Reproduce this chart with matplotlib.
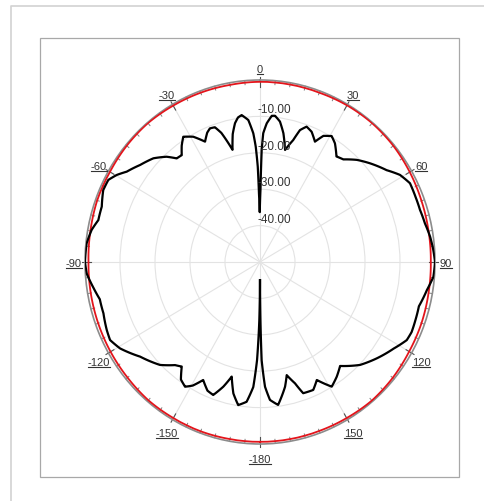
import numpy as np
import matplotlib
matplotlib.use('Agg')
import matplotlib.pyplot as plt
from matplotlib.lines import Line2D
from matplotlib.patches import Rectangle

plt.rcParams['font.family'] = ['Liberation Sans', 'DejaVu Sans']

# ---- data (angle in degrees, level in dB) ----
black_theta = [-180, -179.3, -178.2, -176.8, -174.3, -171.0, -168.1, -165.6, -163.0, -159.9,
               -157.0, -153.4, -150.5, -148.0, -145.0, -142.1, -139.4, -134.7, -127.2, -120.7,
               -116.6, -113.1, -107.5, -102.6, -98.5, -93.7, -90.0, -84.1, -79.6, -76.0,
               -71.4, -66.2, -62.5, -59.7, -56.9, -52.1, -46.9, -42.7, -39.9, -37.3,
               -35.0, -32.5, -29.0, -25.4, -23.0, -21.3, -19.2, -17.3, -14.3, -12.5,
               -10.6, -9.0, -7.4, -4.9, -3.1, -2.2, -1.4, -0.9, -0.3, 0.4,
               0.9, 1.5, 2.9, 4.8, 6.1, 8.4, 10.7, 13.1, 15.8, 17.5,
               19.7, 22.4, 25.4, 27.6, 30.6, 33.3, 37.0, 40.2, 44.6, 49.2,
               55.1, 59.1, 63.2, 68.2, 72.6, 77.3, 81.9, 86.0, 90.0, 94.7,
               99.2, 105.0, 110.0, 114.0, 117.1, 121.9, 128.4, 134.7, 141.3, 145.2,
               149.1, 153.4, 156.6, 161.1, 163.3, 166.2, 168.2, 172.5, 175.7, 177.6,
               179.0, 179.5, 180]
black_db = [-45.0, -34.0, -23.0, -15.6, -11.4, -10.2, -13.1, -17.5, -14.2, -11.1,
            -11.6, -13.75, -11.0, -9.6, -10.6, -13.6, -12.7, -9.8, -7.0, -3.5,
            -2.1, -2.4, -3.1, -3.1, -1.9, -0.4, 0.0, -0.2, -1.1, -2.4,
            -2.3, -1.05, -1.15, -2.6, -4.55, -6.6, -8.3, -10.65, -12.9, -13.1,
            -11.0, -9.2, -10.65, -13.4, -11.4, -10.6, -10.8, -12.85, -18.2, -14.0,
            -11.2, -9.8, -9.3, -10.85, -14.6, -18.3, -23.8, -31.1, -36.3, -30.0,
            -19.2, -14.6, -11.85, -9.7, -9.6, -11.0, -14.0, -18.4, -15.2, -12.0,
            -10.5, -11.3, -13.4, -10.9, -9.8, -11.0, -13.7, -13.1, -10.6, -8.5,
            -5.9, -3.4, -2.0, -2.1, -2.1, -1.7, -0.9, -0.4, 0.0, -0.3,
            -1.7, -3.0, -2.8, -2.6, -2.9, -5.0, -7.4, -9.8, -13.4, -11.6,
            -10.1, -13.75, -11.7, -11.9, -15.2, -18.0, -15.0, -10.4, -12.0, -15.7,
            -23.0, -33.0, -45.0]

red_theta = list(range(-180, 181, 10))
red_db = [-0.6, -0.6, -0.5, -0.5, -0.4, -0.6, -0.7, -0.8, -0.9, -1.0,
          -0.8, -0.5, -0.5, -0.3, -0.2, -0.4, -0.5, -0.6, -0.5, -0.5,
          -0.5, -0.3, -0.2, -0.3, -0.6, -0.9, -1.1, -1.2, -1.1, -0.9,
          -0.8, -0.5, -0.3, -0.5, -0.6, -0.6, -0.6]

angle_ticks = [0, 30, 60, 90, 120, 150, 180, -150, -120, -90, -60, -30]
angle_labels = ['0', '30', '60', '90', '120', '150', '-180', '-150', '-120', '-90', '-60', '-30']
minor_step = 5
r_levels = [-10, -20, -30, -40]
r_labels = ['-10.00', '-20.00', '-30.00', '-40.00']

W, H = 484, 501
fig = plt.figure(figsize=(W / 100, H / 100), dpi=100)

# outer and inner frames
fig.add_artist(Line2D([11 / W, 11 / W, 1.0], [0.0, 1 - 6 / H, 1 - 6 / H],
                      transform=fig.transFigure, color='#d2d2d2', lw=1.2))
fig.add_artist(Rectangle((40 / W, 1 - 477 / H), (459 - 40) / W, (477 - 38) / H,
                         transform=fig.transFigure, fill=False, ec='#a8a8a8', lw=0.9))

ax = fig.add_axes([85 / W, 57 / H, 350 / W, 364 / H], projection='polar')
ax.set_aspect('auto')
ax.set_theta_zero_location('N')
ax.set_theta_direction(-1)
ax.set_ylim(-50, 0)
ax.set_rgrids(r_levels, labels=[''] * len(r_levels))
ax.set_thetagrids(list(range(0, 360, 30)), labels=[''] * 12)
ax.grid(True, color='#e3e3e3', lw=0.8)
ax.spines['polar'].set_color('#8c8c8c')
ax.spines['polar'].set_linewidth(1.2)
ax.tick_params(axis='both', length=0)

# ring ticks: minor every 5 deg inside the ring, major every 30 deg across it
for a in np.arange(0, 360, minor_step):
    t = np.deg2rad(a)
    if a % 30 == 0:
        ax.plot([t, t], [-1.8, 0.8], color='#505050', lw=0.8, clip_on=False, zorder=2)
    else:
        ax.plot([t, t], [-1.1, 0], color='#808080', lw=0.7, clip_on=False, zorder=2)

red_line, = ax.plot(np.deg2rad(red_theta), red_db, color='#e3141b', lw=1.3, zorder=3)
black_line, = ax.plot(np.deg2rad(black_theta), black_db, color='black', lw=1.6, zorder=4)
# let the polar projection draw each segment as a curve in (theta, r)
for ln in (red_line, black_line):
    ln.get_path()._interpolation_steps = 24

for r, lab in zip(r_levels, r_labels):
    ax.annotate(lab, xy=(0, r), xytext=(-2, 0), textcoords='offset pixels',
                ha='left', va='bottom', fontsize=8.5, color='#333333', zorder=5)

texts = []
for a, lab in zip(angle_ticks, angle_labels):
    t = np.deg2rad(a)
    dx = 11 * np.sin(t)
    dy = 12 * np.cos(t) - 2 - (2 if np.cos(t) < -1e-9 else 0)
    txt = ax.annotate(lab, xy=(t, 0), xytext=(dx, dy), textcoords='offset pixels',
                      ha='center', va='center', fontsize=8, color='#333333',
                      annotation_clip=False, zorder=5)
    texts.append(txt)

fig.canvas.draw()
renderer = fig.canvas.get_renderer()
inv = fig.transFigure.inverted()
for txt in texts:
    bb = txt.get_window_extent(renderer)
    (x0, y0), (x1, _) = inv.transform([[bb.x0, bb.y0 + 1.0], [bb.x1, bb.y0 + 1.0]])
    fig.add_artist(Line2D([x0, x1], [y0, y0], transform=fig.transFigure,
                          color='#333333', lw=0.8))

fig.savefig('out.png', dpi=100, facecolor='white')
